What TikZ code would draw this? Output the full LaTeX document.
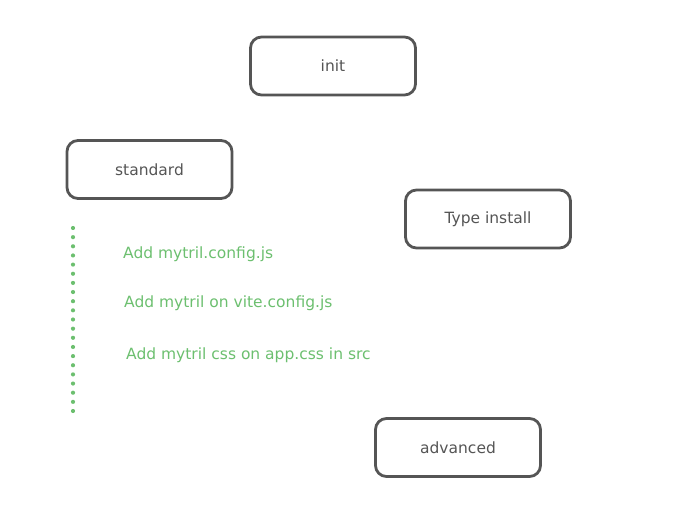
\documentclass[tikz,border=0pt]{standalone}
\usepackage{fontspec}
\setmainfont{DejaVu Sans}
\definecolor{ink}{HTML}{555555}
\definecolor{leaf}{HTML}{6CBF6F}
\begin{document}
\begin{tikzpicture}[x=1pt,y=-1pt,
  stepbox/.style={draw=ink, line width=2.8pt, rounded corners=11pt, fill=white,
    minimum width=165pt, minimum height=58pt, text=ink, font=\fontsize{15.5}{17}\selectfont},
  note/.style={anchor=west, text=leaf, inner sep=0pt, font=\fontsize{15.5}{17}\selectfont},
  guide/.style={draw=leaf, line width=4.2pt, line cap=round, dash pattern=on 0pt off 9.15pt}]
  \useasboundingbox (0,0) rectangle (673,530);
  \node[stepbox] (init) at (333,66) {init};
  \node[stepbox] (standard) at (149.5,169.5) {standard};
  \node[stepbox] (install) at (488,219) {Type install};
  \node[stepbox] (advanced) at (458,447.5) {advanced};
  \node[note] (cfg) at (123,254) {Add mytril.config.js};
  \node[note] (vite) at (124,303) {Add mytril on vite.config.js};
  \node[note] (css) at (126,355) {Add mytril css on app.css in src};
  \coordinate (top) at (73,228);
  \coordinate (bottom) at (73,411);
  \draw[guide] (top) -- (bottom);
\end{tikzpicture}
\end{document}
